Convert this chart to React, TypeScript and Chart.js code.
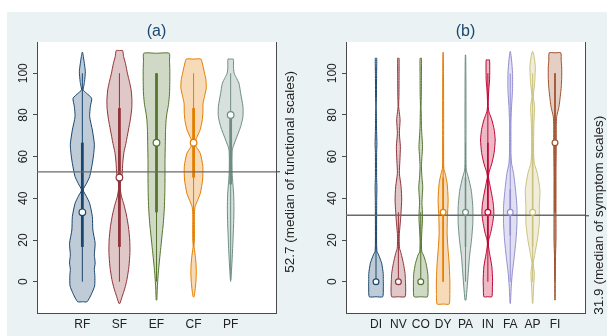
import React, { useEffect, useRef } from 'react';
import { Chart, registerables } from 'chart.js';
Chart.register(...registerables);

const FONT = "'Liberation Sans', Arial, sans-serif";

// ---------- Panel (a): functional scales ----------
const catsA = ['RF', 'SF', 'EF', 'CF', 'PF'];
const colorsA = ['#1a476f', '#90353b', '#55752f', '#e37e00', '#6e8e84'];
const loA = [0, 0, 0, 16.7, 0];
const q1A = [16.7, 16.7, 33.3, 50, 46.7];
const medA = [33.3, 50, 66.7, 66.7, 80];
const q3A = [66.7, 83.3, 100, 83.3, 80];
const hiA = [100, 100, 100, 100, 100];
const overallMedianA = 52.7;
const labelA = '52.7 (median of functional scales)';

// density profiles: [score, density]
const densRF = [[-9.6, 4.7], [-6, 9], [-2, 12.3], [3, 12.5], [6, 12], [9, 12.8], [13, 12], [18.4, 12.8], [24.8, 10.5], [31.2, 10], [37.6, 7.3], [41, 4], [44, 0.8], [47, 4], [50.4, 7.3], [56.8, 10], [62, 11.5], [66, 12], [72.8, 10], [79.2, 7.3], [84, 8], [88, 9.3], [90.5, 4], [92, 0.8], [94, 1.5], [96, 2.2], [100.8, 3], [104.8, 2], [108, 1], [110, 0.3]];
const densSF = [[-10.4, 0.5], [-7.2, 2.7], [-3, 5.5], [1, 7.5], [7.2, 9.5], [14, 10.5], [20, 10.3], [26.4, 9], [32, 7], [37, 4.5], [41, 2], [44, 1], [46.4, 0.8], [49, 1.5], [52, 2.8], [56.8, 3.3], [62, 4.5], [66.4, 6.5], [72.8, 9], [78, 11], [83, 12.3], [87.2, 12.5], [92, 11.7], [96, 10], [100, 8], [104.8, 6], [108, 4.2], [110.9, 3.2]];
const densEF = [[-8.8, 0.3], [-3, 0.8], [3, 1.6], [8, 2.5], [15, 4], [22, 5.5], [28, 6.8], [35, 7.8], [42, 8.3], [50, 8.5], [58, 8.5], [66, 8.8], [72, 9], [77, 9.5], [81, 10.5], [85, 12], [90, 13], [96, 13.3], [102, 13.3], [106, 13], [109.6, 12.7]];
const densCF = [[-7.2, 0.5], [-4, 1.5], [0, 2.3], [4, 2.7], [8, 2.5], [12, 1.8], [15.5, 0.8], [17, 0.4], [20, 0.8], [25, 0.9], [30, 0.8], [33, 0.9], [36, 1.5], [39, 4], [42.4, 6.7], [48.8, 9], [55.2, 9.3], [61.6, 6.7], [64.5, 3], [66.7, 0.8], [69, 3], [72.8, 6.5], [77, 8.5], [81, 9.3], [85.6, 9.5], [89, 11], [93, 12.7], [97, 12.3], [100, 11], [103.2, 9.5], [106.8, 7.3]];
const densPF = [[0.8, 0.2], [5, 0.8], [10, 1.4], [16, 2], [22, 2.5], [28, 3], [35, 3.3], [42, 3], [47, 2.2], [52, 1.5], [58, 1.3], [62, 1.5], [64, 2], [68, 5], [74.4, 10], [79.2, 12.3], [84, 12.3], [90.4, 10], [95.2, 8.3], [98, 5.5], [100, 3.5], [103, 2.8], [106.8, 2.7]];
const densA = [densRF, densSF, densEF, densCF, densPF];

// ---------- Panel (b): symptom scales ----------
const catsB = ['DI', 'NV', 'CO', 'DY', 'PA', 'IN', 'FA', 'AP', 'FI'];
const colorsB = ['#1a476f', '#90353b', '#55752f', '#e37e00', '#6e8e84', '#c10534', '#938dd2', '#cac27e', '#a0522d'];
const loB = [0, 0, 0, 0, 0, 0, 0, 0, 0];
const q1B = [0, 0, 0, 0, 16.7, 16.7, 22.2, 16.7, 33.3];
const medB = [0, 0, 0, 33.3, 33.3, 33.3, 33.3, 33.3, 66.7];
const q3B = [0, 0, 0, 50, 50, 66.7, 44.4, 66.7, 100];
const hiB = [33.3, 33.3, 33.3, 66.7, 66.7, 100, 100, 100, 100];
const overallMedianB = 31.9;
const labelB = '31.9 (median of symptom scales)';

const densDI = [[-7.2, 6.7], [-3, 7.3], [1, 7.3], [4, 7.2], [8.8, 5.7], [12.8, 2.7], [14.4, 1], [18, 0.6], [30, 0.6], [40, 0.7], [45, 0.9], [50, 0.6], [62, 0.6], [66, 0.9], [72, 0.6], [80, 0.4], [84, 0.2], [88, 0.4], [100, 0.6], [107.2, 0.7]];
const densNV = [[-7.2, 6.7], [-3, 7.3], [1, 7], [4, 6.7], [8.8, 5], [13.6, 2.7], [16, 1.2], [20, 0.8], [23.2, 1], [30, 2.2], [39.2, 3.3], [45.6, 2.7], [52, 1], [58, 1.5], [64.8, 2], [71.2, 1], [77.6, 1.7], [81, 1], [84, 0.3], [90, 0.6], [100, 0.7], [107.2, 0.7]];
const densCO = [[-7.2, 6.7], [-3, 7.3], [1, 7.3], [4, 7], [8.8, 5.3], [12.8, 2.7], [14.4, 1], [20, 0.7], [25, 1.2], [31.2, 1.8], [38, 1.2], [45.6, 2], [50, 1.2], [55.2, 0.7], [60, 1.2], [64.8, 1.8], [70, 1.2], [74.4, 0.7], [80, 0.5], [84, 0.3], [90, 0.6], [100, 0.7], [107.2, 0.7]];
const densDY = [[-10.7, 6], [-5.6, 6.7], [0.8, 6.7], [8.8, 6], [16.8, 4.7], [23.2, 4], [31.2, 4.3], [39.2, 5], [47.2, 4], [52, 2], [54.4, 0.7], [60, 0.5], [80, 0.5], [100, 0.4], [110, 0.2]];
const densPA = [[-8.8, 0.5], [-2.4, 1.7], [4, 2.7], [12, 4], [20, 6], [28, 7.3], [36, 7.3], [44, 5.7], [50.4, 2.7], [53.6, 0.8], [60, 0.5], [80, 0.5], [100, 0.4], [108.8, 0.2]];
const densIN = [[-7.2, 4], [-3, 4.5], [0.8, 4.7], [7.2, 4], [13.6, 1.7], [17.6, 0.5], [20, 0.8], [23.2, 2.7], [28, 4.7], [32.8, 6], [37, 5.5], [40.8, 4.3], [47.2, 1.7], [50.4, 0.5], [53, 1.5], [56.8, 4], [62, 6.3], [68, 7.3], [73, 6.3], [77.6, 4], [81.6, 1], [84, 0.4], [87.2, 0.4], [92, 0.9], [96.8, 1.7], [106.4, 1.7]];
const densFA = [[-10.4, 0.2], [-2.4, 1], [4, 2], [12, 4], [20, 5.7], [28, 6.7], [36, 6.7], [44, 5.3], [52, 3.3], [56.8, 1.3], [62, 0.7], [68, 0.7], [76, 0.7], [84, 1.3], [92, 2.3], [100, 2.3], [106.4, 1.3], [110.4, 0.2]];
const densAP = [[-10.4, 0.2], [-2.4, 1], [4, 1.7], [8.8, 0.7], [13.6, 2.3], [20, 4.7], [28, 6.7], [36, 6.7], [44, 7.3], [52, 4.7], [56.8, 1.7], [62, 1], [68, 1], [76, 1.3], [84, 2], [88.8, 0.7], [95.2, 2], [103.2, 2.7], [108, 1.5], [110.4, 0.3]];
const densFI = [[-8.8, 0.2], [0, 0.3], [12, 0.5], [20, 1], [36, 1], [52, 1], [60, 1.2], [68, 1.3], [74.4, 1.3], [79.2, 1.7], [84, 4], [89, 5.3], [93.6, 6.3], [98, 6.7], [103, 6.7], [106, 6.2], [109.8, 5.8]];
const densB = [densDI, densNV, densCO, densDY, densPA, densIN, densFA, densAP, densFI];

const yTickValues = [0, 20, 40, 60, 80, 100];

function rgba(hex: string, a: number) {
  const n = parseInt(hex.slice(1), 16);
  return `rgba(${(n >> 16) & 255},${(n >> 8) & 255},${n & 255},${a})`;
}

function violinPoints(profile: number[][], c: number, k: number) {
  const bottom = profile[0][0];
  const top = profile[profile.length - 1][0];
  const right = profile.map(([y, d]) => ({ x: c + d * k, y }));
  const left = profile.slice().reverse().map(([y, d]) => ({ x: c - d * k, y }));
  return [{ x: c, y: bottom }, ...right, { x: c, y: top }, ...left, { x: c, y: bottom }];
}

interface PanelCfg {
  title: string;
  cats: string[];
  colors: string[];
  dens: number[][][];
  lo: number[]; q1: number[]; med: number[]; q3: number[]; hi: number[];
  overall: number;
  label: string;
  densK: number;
  xMin: number; xMax: number;
  leftW: number; rightW: number;
  iqrW: number; ptR: number;
}

const panelText = {
  id: 'panelText',
  beforeDraw(chart: any) {
    const { ctx, chartArea } = chart;
    ctx.save();
    ctx.fillStyle = '#ffffff';
    ctx.fillRect(chartArea.left, chartArea.top, chartArea.right - chartArea.left, chartArea.bottom - chartArea.top);
    ctx.restore();
  },
  afterDraw(chart: any, _args: any, opts: any) {
    const { ctx, chartArea } = chart;
    const y = chart.scales.y;
    ctx.save();
    ctx.fillStyle = '#222222';
    ctx.textAlign = 'center';
    ctx.textBaseline = 'middle';
    ctx.font = `12px ${FONT}`;
    for (const t of y.ticks) {
      const py = y.getPixelForValue(t.value);
      ctx.save();
      ctx.translate(chartArea.left - 13.5, py);
      ctx.rotate(-Math.PI / 2);
      ctx.fillText(String(t.value), 0, 0);
      ctx.restore();
    }
    const r = chart.scales.y2;
    const my = r.getPixelForValue(opts.overall);
    ctx.font = `13.5px ${FONT}`;
    ctx.save();
    ctx.translate(chartArea.right + 14.5, my);
    ctx.rotate(-Math.PI / 2);
    ctx.fillText(opts.label, 0, 0);
    ctx.restore();
    ctx.fillStyle = '#1a476f';
    ctx.font = `16px ${FONT}`;
    ctx.fillText(opts.title, (chartArea.left + chartArea.right) / 2, 20);
    ctx.restore();
  },
};

function buildConfig(p: PanelCfg): any {
  const datasets: any[] = [];
  p.cats.forEach((_, i) => {
    const c = i + 1;
    const col = p.colors[i];
    datasets.push({
      data: violinPoints(p.dens[i], c, p.densK),
      showLine: true, fill: 'shape', tension: 0.2,
      backgroundColor: rgba(col, 0.28), borderColor: col, borderWidth: 1,
      pointRadius: 0, order: 10,
    });
    datasets.push({
      data: [{ x: c, y: p.lo[i] }, { x: c, y: p.hi[i] }],
      showLine: true, borderColor: col, borderWidth: 1, pointRadius: 0, order: 8,
    });
    datasets.push({
      data: [{ x: c, y: p.q1[i] }, { x: c, y: p.q3[i] }],
      showLine: true, borderColor: col, borderWidth: p.iqrW, pointRadius: 0, order: 7,
    });
  });
  datasets.push({
    data: [{ x: p.xMin, y: p.overall }, { x: p.xMax, y: p.overall }],
    showLine: true, borderColor: '#6a6a6a', borderWidth: 1.4, pointRadius: 0, order: 5,
  });
  datasets.push({
    data: p.cats.map((_, i) => ({ x: i + 1, y: p.med[i] })),
    showLine: false, pointRadius: p.ptR, pointBackgroundColor: '#ffffff',
    pointBorderColor: p.colors, pointBorderWidth: 1.2, order: 1,
  });

  const axisColor = '#4a4a4a';
  return {
    type: 'scatter',
    data: { datasets },
    plugins: [panelText],
    options: {
      animation: false,
      responsive: false,
      events: [],
      layout: { padding: { top: 30, left: 0, right: 0, bottom: 0 } },
      plugins: {
        legend: { display: false },
        tooltip: { enabled: false },
        title: { display: false },
        panelText: { title: p.title, overall: p.overall, label: p.label },
      },
      scales: {
        x: {
          type: 'linear', min: p.xMin, max: p.xMax,
          afterBuildTicks: (s: any) => { s.ticks = p.cats.map((_, i) => ({ value: i + 1 })); },
          afterFit: (s: any) => { s.height = 23; },
          grid: { display: false, drawTicks: false },
          border: { display: true, color: axisColor, width: 1 },
          ticks: {
            autoSkip: false, maxRotation: 0, minRotation: 0, padding: 4,
            color: '#222222', font: { family: FONT, size: 12 },
            callback: (v: any) => p.cats[Math.round(v) - 1] ?? '',
          },
        },
        y: {
          type: 'linear', position: 'left', min: -15, max: 115,
          afterBuildTicks: (s: any) => { s.ticks = yTickValues.map((v) => ({ value: v })); },
          afterFit: (s: any) => { s.width = p.leftW; },
          grid: { display: true, drawOnChartArea: false, drawTicks: true, tickLength: 4, color: axisColor },
          border: { display: true, color: axisColor, width: 1 },
          ticks: { display: false },
        },
        y2: {
          type: 'linear', position: 'right', min: -15, max: 115,
          afterBuildTicks: (s: any) => { s.ticks = [{ value: p.overall }]; },
          afterFit: (s: any) => { s.width = p.rightW; },
          grid: { display: true, drawOnChartArea: false, drawTicks: true, tickLength: 4, color: '#6a6a6a', lineWidth: 1.4 },
          border: { display: true, color: axisColor, width: 1 },
          ticks: { display: false },
        },
      },
    },
  };
}

const panelA: PanelCfg = {
  title: '(a)', cats: catsA, colors: colorsA, dens: densA,
  lo: loA, q1: q1A, med: medA, q3: q3A, hi: hiA,
  overall: overallMedianA, label: labelA,
  densK: 1 / 37.08, xMin: -0.223, xMax: 6.223, leftW: 30, rightW: 24, iqrW: 2.8, ptR: 3.3,
};
const panelB: PanelCfg = {
  title: '(b)', cats: catsB, colors: colorsB, dens: densB,
  lo: loB, q1: q1B, med: medB, q3: q3B, hi: hiB,
  overall: overallMedianB, label: labelB,
  densK: 1 / 22.375, xMin: -0.341, xMax: 10.341, leftW: 46, rightW: 22, iqrW: 1.6, ptR: 2.9,
};

function Panel({ cfg, left, width }: { cfg: PanelCfg; left: number; width: number }) {
  const ref = useRef<HTMLCanvasElement | null>(null);
  useEffect(() => {
    if (!ref.current) return;
    const chart = new Chart(ref.current, buildConfig(cfg));
    return () => chart.destroy();
  }, []);
  return (
    <canvas ref={ref} width={width} height={324}
      style={{ position: 'absolute', left, top: 12, width, height: 324 }} />
  );
}

export default function App() {
  return (
    <div style={{ position: 'absolute', left: 0, top: 0, width: 607, height: 336, background: '#ffffff', overflow: 'hidden' }}>
      <div style={{ position: 'absolute', left: 7, top: 12, width: 600, height: 324, background: '#eaf2f3' }} />
      <Panel cfg={panelA} left={7} width={293} />
      <Panel cfg={panelB} left={300} width={307} />
    </div>
  );
}
